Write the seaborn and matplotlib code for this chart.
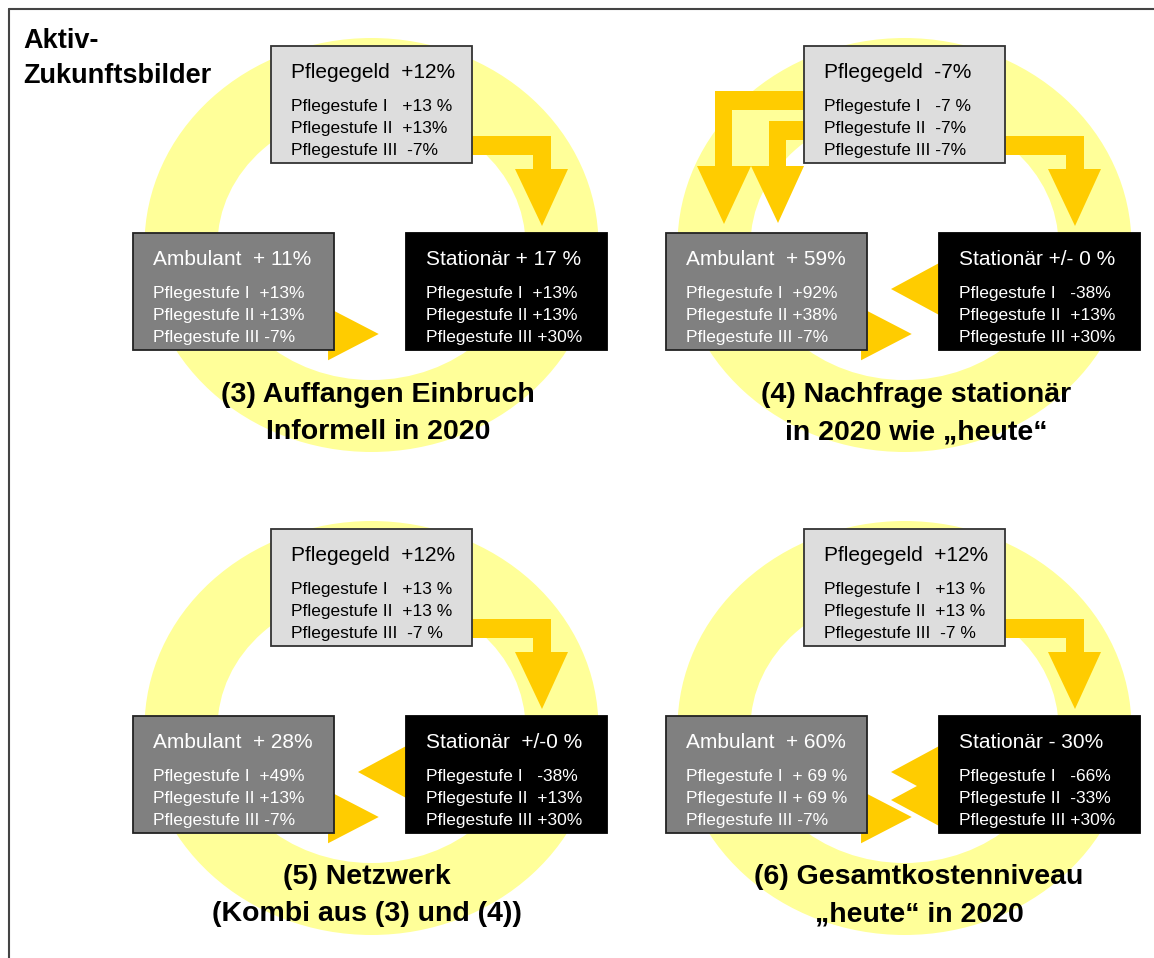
import matplotlib
matplotlib.use("Agg")
import matplotlib.pyplot as plt
import seaborn as sns
from matplotlib.patches import Rectangle, Ellipse, Polygon

# scenario texts, order: (3), (4), (5), (6)
panel_titles = [
    "(3) Auffangen Einbruch\nInformell in 2020",
    "(4) Nachfrage stationär\nin 2020 wie „heute“",
    "(5) Netzwerk\n(Kombi aus (3) und (4))",
    "(6) Gesamtkostenniveau\n„heute“ in 2020",
]
pflegegeld_head = ["Pflegegeld  +12%", "Pflegegeld  -7%", "Pflegegeld  +12%", "Pflegegeld  +12%"]
pflegegeld_lines = [
    ["Pflegestufe I   +13 %", "Pflegestufe II  +13%", "Pflegestufe III  -7%"],
    ["Pflegestufe I   -7 %", "Pflegestufe II  -7%", "Pflegestufe III -7%"],
    ["Pflegestufe I   +13 %", "Pflegestufe II  +13 %", "Pflegestufe III  -7 %"],
    ["Pflegestufe I   +13 %", "Pflegestufe II  +13 %", "Pflegestufe III  -7 %"],
]
ambulant_head = ["Ambulant  + 11%", "Ambulant  + 59%", "Ambulant  + 28%", "Ambulant  + 60%"]
ambulant_lines = [
    ["Pflegestufe I  +13%", "Pflegestufe II +13%", "Pflegestufe III -7%"],
    ["Pflegestufe I  +92%", "Pflegestufe II +38%", "Pflegestufe III -7%"],
    ["Pflegestufe I  +49%", "Pflegestufe II +13%", "Pflegestufe III -7%"],
    ["Pflegestufe I  + 69 %", "Pflegestufe II + 69 %", "Pflegestufe III -7%"],
]
stationaer_head = ["Stationär + 17 %", "Stationär +/- 0 %", "Stationär  +/-0 %", "Stationär - 30%"]
stationaer_lines = [
    ["Pflegestufe I  +13%", "Pflegestufe II +13%", "Pflegestufe III +30%"],
    ["Pflegestufe I   -38%", "Pflegestufe II  +13%", "Pflegestufe III +30%"],
    ["Pflegestufe I   -38%", "Pflegestufe II  +13%", "Pflegestufe III +30%"],
    ["Pflegestufe I   -66%", "Pflegestufe II  -33%", "Pflegestufe III +30%"],
]
# number of flows from Pflegegeld to Ambulant and from Stationär to Ambulant
pflegegeld_to_ambulant = [0, 2, 0, 0]
stationaer_to_ambulant = [0, 1, 1, 2]

sns.set_theme(style="white")
plt.rcParams["font.family"] = ["Liberation Sans", "DejaVu Sans"]
plt.rcParams["text.color"] = "black"

RING = "#FFFF99"
GOLD = "#FFCC00"

fig = plt.figure(figsize=(11.54, 9.58), dpi=100)
ax = fig.add_axes([0, 0, 1, 1])
ax.set_xlim(0, 1154)
ax.set_ylim(958, 0)
ax.axis("off")

# frame
ax.plot([9, 1154], [9, 9], color="#444444", lw=1.5)
ax.plot([9, 9], [9, 958], color="#444444", lw=1.5)
ax.text(23, 48, "Aktiv-", fontsize=19.5, fontweight="bold", va="baseline")
ax.text(23, 83, "Zukunftsbilder", fontsize=19.5, fontweight="bold", va="baseline")

W, H = 201, 117
offsets = [(0, 0), (533, 0), (0, 483), (533, 483)]
title_x = [378, 916, 367, 919]
title_y = [402, 439]


def box(x, y, face, edge, head, lines, tcol):
    ax.add_patch(Rectangle((x, y), W, H, facecolor=face, edgecolor=edge, lw=1.3, zorder=5))
    ax.text(x + 20, y + 32, head, fontsize=15, color=tcol, va="baseline", zorder=6)
    for k, line in enumerate(lines):
        ax.text(x + 20, y + 65 + 22 * k, line, fontsize=12.5, color=tcol, va="baseline", zorder=6)


for i in range(4):
    dx, dy = offsets[i]
    tx, ty = 271 + dx, 46 + dy      # Pflegegeld box
    ax_, ay = 133 + dx, 233 + dy    # Ambulant box
    sx, sy = 406 + dx, 233 + dy     # Stationär box

    # ring
    cx, cy = tx + W / 2, 245 + dy
    ax.add_patch(Ellipse((cx, cy), 454, 414, facecolor=RING, edgecolor="none", zorder=1))
    ax.add_patch(Ellipse((cx, cy), 308, 270, facecolor="white", edgecolor="none", zorder=1))

    # Pflegegeld -> Stationär
    R, T = tx + W, ty
    pts = [(R - 2, T + 90), (R + 79, T + 90), (R + 79, T + 123), (R + 96, T + 123), (R + 70, T + 180),
           (R + 43, T + 123), (R + 61, T + 123), (R + 61, T + 109), (R - 2, T + 109)]
    ax.add_patch(Polygon(pts, closed=True, facecolor=GOLD, edgecolor="none", zorder=2))

    # Pflegegeld -> Ambulant
    L = tx
    if pflegegeld_to_ambulant[i] >= 1:
        pts = [(L + 2, T + 45), (L - 89, T + 45), (L - 89, T + 120), (L - 107, T + 120), (L - 80, T + 178),
               (L - 53, T + 120), (L - 72, T + 120), (L - 72, T + 64), (L + 2, T + 64)]
        ax.add_patch(Polygon(pts, closed=True, facecolor=GOLD, edgecolor="none", zorder=2))
    if pflegegeld_to_ambulant[i] >= 2:
        pts = [(L + 2, T + 75), (L - 35, T + 75), (L - 35, T + 120), (L - 53, T + 120), (L - 26, T + 177),
               (L + 0, T + 120), (L - 18, T + 120), (L - 18, T + 94), (L + 2, T + 94)]
        ax.add_patch(Polygon(pts, closed=True, facecolor=GOLD, edgecolor="none", zorder=2))

    # Stationär -> Ambulant
    for k in range(stationaer_to_ambulant[i]):
        o = 28 * k
        pts = [(sx + 2, sy + 29 + o), (sx - 48, sy + 56 + o), (sx + 2, sy + 83 + o)]
        ax.add_patch(Polygon(pts, closed=True, facecolor=GOLD, edgecolor="none", zorder=2))

    # Ambulant -> Stationär
    Ar = ax_ + W
    pts = [(Ar - 7, ay + 73), (Ar + 47, ay + 101), (Ar - 7, ay + 129)]
    ax.add_patch(Polygon(pts, closed=True, facecolor=GOLD, edgecolor="white", lw=1.5, zorder=3))

    box(tx, ty, "#DDDDDD", "#333333", pflegegeld_head[i], pflegegeld_lines[i], "black")
    box(ax_, ay, "#808080", "#222222", ambulant_head[i], ambulant_lines[i], "white")
    box(sx, sy, "black", "black", stationaer_head[i], stationaer_lines[i], "white")

    for k, line in enumerate(panel_titles[i].split("\n")):
        ax.text(title_x[i], title_y[k] + (482 if dy else 0), line, fontsize=20.5, fontweight="bold",
                ha="center", va="baseline", color="black", zorder=7)

fig.savefig("out.png", dpi=100)
